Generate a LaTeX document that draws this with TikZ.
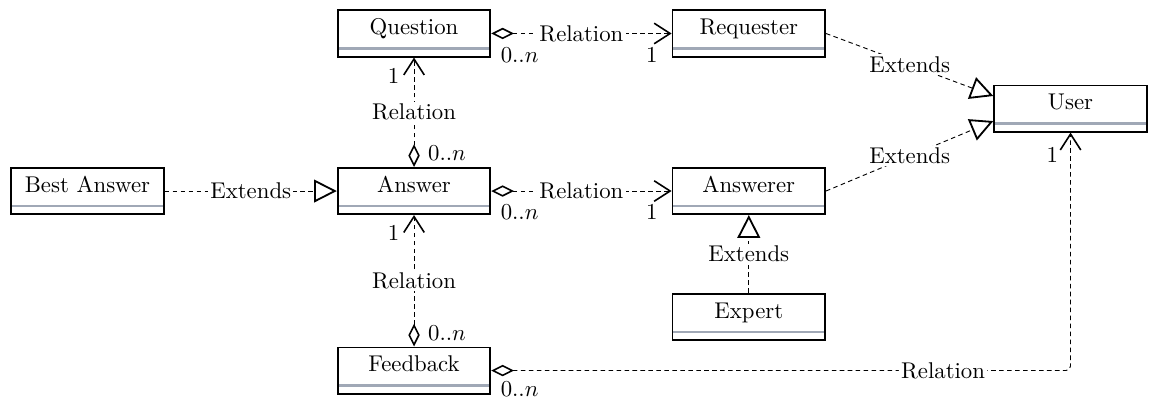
\documentclass[tikz,border=0pt]{standalone}
\usepackage{amsmath}
\usepackage{tikz}
\usetikzlibrary{arrows.meta}

\definecolor{sepgray}{RGB}{160,168,182}

\begin{document}
\begin{tikzpicture}[
	cls/.style={draw, line width=0.8pt, minimum width=67pt, inner xsep=0pt, inner ysep=0pt,
		text height=10.7pt, text depth=9.6pt,
		path picture={\draw[sepgray, line width=1pt] ([yshift=3.6pt]path picture bounding box.south west) -- ([yshift=3.6pt]path picture bounding box.south east);}},
	relline/.style={dash pattern=on 2pt off 1.5pt,
		{Diamond[open,length=10pt,width=5pt,line width=0.7pt]}-{Straight Barb[length=7pt,width=9pt,line width=0.7pt]}},
	extline/.style={dash pattern=on 2pt off 1.5pt, -{Triangle[open,length=10pt,width=10pt,line width=0.8pt]}},
	lbl/.style={fill=white, inner sep=1pt},
	mult/.style={inner sep=0pt}
	]
	\useasboundingbox (0,0) rectangle (17.731,6.173);
	\node[cls] (question) at (6.389,5.656) {Question};
	\node[cls] (requester) at (11.555,5.656) {Requester};
	\node[cls] (user) at (16.52,4.498) {User};
	\node[cls] (bestanswer) at (1.350,3.225) {Best Answer};
	\node[cls] (answer) at (6.389,3.225) {Answer};
	\node[cls] (answerer) at (11.555,3.225) {Answerer};
	\node[cls] (expert) at (11.555,1.281) {Expert};
	\node[cls] (feedback) at (6.389,0.455) {Feedback};

	\draw[relline] (question.east) -- node[lbl] (relqr) {Relation} (requester.west);
	\draw[relline] (answer.north) -- node[lbl] (relaq) {Relation} (question.south);
	\draw[relline] (answer.east) -- node[lbl] (relaa) {Relation} (answerer.west);
	\draw[relline] (feedback.north) -- node[lbl] (relfa) {Relation} (answer.south);
	\draw[relline, rounded corners=2pt] (feedback.east) -| node[lbl, pos=0.39] (relfu) {Relation} (user.south);

	\draw[extline] (bestanswer) -- node[lbl] (extba) {Extends} (answer);
	\draw[extline] (expert) -- node[lbl] (extex) {Extends} (answerer);
	\draw[extline] (requester.east) -- node[lbl] (extre) {Extends} ([yshift=5.5pt]user.west);
	\draw[extline] (answerer.east) -- node[lbl] (extaw) {Extends} ([yshift=-5.5pt]user.west);

	\node[mult, anchor=north west] (mqr) at ([shift={(4pt,-6pt)}]question.east) {$0..n$};
	\node[mult, anchor=north east] (mrq) at ([shift={(-6pt,-6pt)}]requester.west) {$1$};
	\node[mult, anchor=north west] (maa) at ([shift={(4pt,-6pt)}]answer.east) {$0..n$};
	\node[mult, anchor=north east] (mwa) at ([shift={(-6pt,-6pt)}]answerer.west) {$1$};
	\node[mult, anchor=west] (maq) at ([shift={(6pt,6pt)}]answer.north) {$0..n$};
	\node[mult] (mqa) at ([shift={(-9pt,-8pt)}]question.south) {$1$};
	\node[mult, anchor=west] (mfa) at ([shift={(6pt,6pt)}]feedback.north) {$0..n$};
	\node[mult] (maf) at ([shift={(-9pt,-8pt)}]answer.south) {$1$};
	\node[mult, anchor=north west] (mfu) at ([shift={(4pt,-4.6pt)}]feedback.east) {$0..n$};
	\node[mult] (muf) at ([shift={(-8pt,-10pt)}]user.south) {$1$};
\end{tikzpicture}
\end{document}
